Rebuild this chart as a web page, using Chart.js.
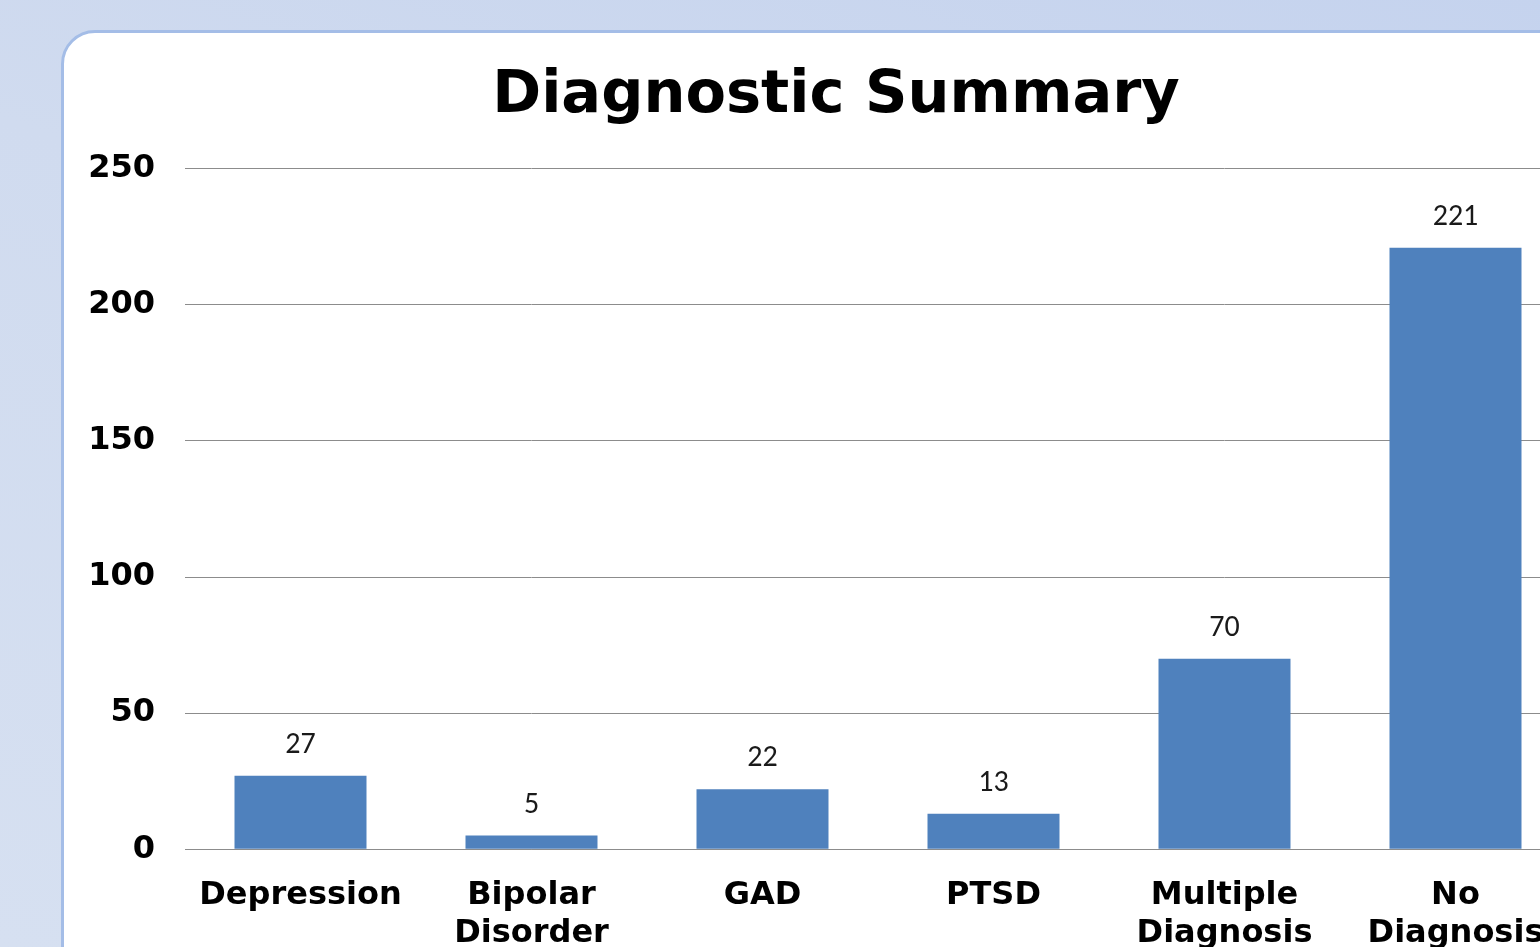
<!DOCTYPE html>
<html>
<head>
<meta charset="utf-8">
<script src="https://cdn.jsdelivr.net/npm/chart.js@4"></script>
<style>
html,body{margin:0;padding:0;width:1540px;height:947px;overflow:hidden}
body{background:linear-gradient(200deg,#c5d3ee 0%,#d0dbef 45%,#d6e0f1 100%);position:relative}
#panel{position:absolute;left:61px;top:30px;width:1600px;height:1000px;background:#fff;border:3px solid #a4bde7;border-radius:34px 0 0 0;box-sizing:border-box}
#wrap{position:absolute;left:64px;top:33px}
</style>
</head>
<body>
<div id="panel"></div>
<div id="wrap"><canvas id="diagChart" width="1600" height="941"></canvas></div>
<script>

const categories = ["Depression", ["Bipolar","Disorder"], "GAD", "PTSD", ["Multiple","Diagnosis"], ["No","Diagnosis"]]
const counts = [27, 5, 22, 13, 70, 221]
const yTicks = [0, 50, 100, 150, 200, 250]

// value labels above each bar
const barLabels = {
id:"barLabels",
afterDatasetsDraw(chart){
const ctx = chart.ctx
const meta = chart.getDatasetMeta(0)
ctx.save()
ctx.font = "30px Carlito, Calibri, 'Open Sans', sans-serif"
ctx.fillStyle = "#1a1a1a"
ctx.textAlign = "center"
ctx.textBaseline = "alphabetic"
meta.data.forEach((bar,i)=>{
ctx.fillText(String(counts[i]), bar.x, bar.y - 23)
})
ctx.restore()
}
}

const ctx = document.getElementById("diagChart")

new Chart(ctx, {
type:"bar",
data:{
labels:categories,
datasets:[{
label:"Count",
data:counts,
backgroundColor:"#4f81bd",
borderWidth:0,
barPercentage:0.5714,
categoryPercentage:1
}]
},
options:{
responsive:false,
animation:false,
layout:{padding:{left:0,right:56,top:0,bottom:2}},
plugins:{
legend:{display:false},
tooltip:{enabled:false},
title:{
display:true,
text:"Diagnostic Summary",
color:"#000",
font:{family:"'DejaVu Sans'",size:59,weight:"bold",lineHeight:1.2},
padding:{top:28,bottom:37}
}
},
scales:{
x:{
grid:{display:false},
border:{display:true,color:"#8c8c8c",width:1},
ticks:{
color:"#000",
font:{family:"'DejaVu Sans'",size:32,weight:"bold",lineHeight:1.2},
padding:19,
maxRotation:0,
autoSkip:false
}
},
y:{
min:yTicks[0],
max:yTicks[yTicks.length-1],
afterFit(scale){ scale.width = 121 },
afterBuildTicks(scale){ scale.ticks = yTicks.map(v=>({value:v})) },
grid:{color:"#8c8c8c",lineWidth:1,drawTicks:false},
border:{display:false},
ticks:{
color:"#000",
font:{family:"'DejaVu Sans'",size:32,weight:"bold"},
padding:30
}
},
// empty spacer on the right so the title centres like the original
spacer:{
type:"linear",
position:"right",
afterFit(scale){ scale.width = 37 },
grid:{display:false},
border:{display:false},
ticks:{display:false}
}
}
},
plugins:[barLabels]
})

</script>
</body>
</html>
